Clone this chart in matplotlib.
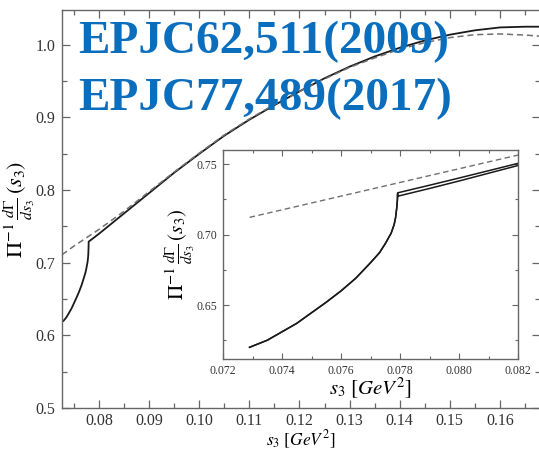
import matplotlib
matplotlib.use("Agg")
import matplotlib.pyplot as plt
from matplotlib.ticker import MultipleLocator, FormatStrFormatter

plt.rcParams['font.family'] = ['Liberation Serif', 'DejaVu Serif']
plt.rcParams['mathtext.fontset'] = 'stix'

# ---------------- data ----------------
# below-threshold branch (shared by main plot and inset)
s3_low = [0.0729, 0.0735, 0.0740, 0.0745, 0.0750, 0.0755, 0.0760, 0.0765, 0.0770, 0.0773,
          0.0775, 0.0777, 0.0778, 0.07785, 0.07789, 0.07791, 0.07792]
rate_low = [0.620, 0.625, 0.631, 0.637, 0.6445, 0.652, 0.660, 0.669, 0.680, 0.687,
            0.6935, 0.701, 0.707, 0.712, 0.719, 0.724, 0.729]

# above-threshold branch, main plot
s3_high = [0.07792, 0.080, 0.085, 0.090, 0.095, 0.100, 0.105, 0.110, 0.115, 0.120, 0.125,
           0.130, 0.135, 0.140, 0.145, 0.150, 0.155, 0.160, 0.165, 0.168]
rate_high = [0.729, 0.740, 0.768, 0.796, 0.824, 0.850, 0.875, 0.897, 0.917, 0.936, 0.954,
             0.970, 0.984, 0.996, 1.006, 1.014, 1.020, 1.024, 1.025, 1.025]

# dashed curve, main plot
s3_dash = [0.0726, 0.075, 0.080, 0.085, 0.090, 0.095, 0.100, 0.105, 0.110, 0.115, 0.120,
           0.125, 0.130, 0.135, 0.140, 0.145, 0.150, 0.155, 0.160, 0.165, 0.168]
rate_dash = [0.711, 0.723, 0.746, 0.771, 0.798, 0.825, 0.851, 0.876, 0.898, 0.918, 0.936,
             0.953, 0.969, 0.982, 0.994, 1.003, 1.010, 1.014, 1.015, 1.0135, 1.012]

# inset: two solid curves above threshold and dashed curve
s3_in_high = [0.07792, 0.0790, 0.0800, 0.0810, 0.0820]
rate_in_high1 = [0.7296, 0.7350, 0.7401, 0.7453, 0.7505]
rate_in_high2 = [0.7272, 0.7327, 0.7380, 0.7435, 0.7490]
s3_in_dash = [0.0729, 0.0820]
rate_in_dash = [0.7122, 0.7564]

main_xticks = [0.08, 0.09, 0.10, 0.11, 0.12, 0.13, 0.14, 0.15, 0.16]
main_yticks = [0.5, 0.6, 0.7, 0.8, 0.9, 1.0]
inset_xticks = [0.072, 0.074, 0.076, 0.078, 0.080, 0.082]
inset_yticks = [0.65, 0.70, 0.75]

refs = ["EPJC62,511(2009)", "EPJC77,489(2017)"]

# ---------------- figure ----------------
W, H = 539, 451
fig = plt.figure(figsize=(W / 100, H / 100), dpi=100)

spine_col = '#666666'
line_col = '#1a1a1a'
dash_col = '#707070'
ylab = r'$\Pi^{-1}\,\frac{d\Gamma}{ds_3}\,(s_3)$'
xlab = r'$s_3\ [GeV^2]$'

def style(ax, major, minor, width):
    for sp in ax.spines.values():
        sp.set_color(spine_col)
        sp.set_linewidth(1.0)
    ax.tick_params(which='both', direction='in', top=True, right=True, colors=spine_col,
                   labelcolor='#333333')
    ax.tick_params(which='major', length=major, width=width)
    ax.tick_params(which='minor', length=minor, width=width)

# main axes
ax = fig.add_axes([62 / W, 1 - 408 / H, (540 - 62) / W, (408 - 10) / H])
ax.plot(s3_low + s3_high, rate_low + rate_high, color=line_col, lw=1.3)
ax.plot(s3_dash, rate_dash, color=dash_col, lw=1.1, ls=(0, (4, 2.5)))
ax.set_xlim(0.0726, 0.168)
ax.set_ylim(0.5, 1.048)
ax.set_xticks(main_xticks)
ax.set_yticks(main_yticks)
ax.xaxis.set_major_formatter(FormatStrFormatter('%.2f'))
ax.yaxis.set_major_formatter(FormatStrFormatter('%.1f'))
ax.xaxis.set_minor_locator(MultipleLocator(0.005))
ax.yaxis.set_minor_locator(MultipleLocator(0.05))
style(ax, 6, 3.5, 0.9)
ax.tick_params(labelsize=11.5, pad=5)
ax.tick_params(axis='x', pad=3.5)
ax.set_xlabel(xlab, fontsize=12.5, labelpad=-0.5)
ax.set_ylabel(ylab, fontsize=16, labelpad=-1)

# inset axes
axi = fig.add_axes([223 / W, 1 - 359 / H, (518 - 223) / W, (359 - 150) / H])
axi.plot(s3_low + s3_in_high, rate_low + rate_in_high1, color=line_col, lw=1.1)
axi.plot(s3_low + s3_in_high, rate_low + rate_in_high2, color=line_col, lw=1.1)
axi.plot(s3_in_dash, rate_in_dash, color=dash_col, lw=1.0, ls=(0, (4, 2.5)))
axi.set_xlim(0.072, 0.082)
axi.set_ylim(0.6117, 0.760)
axi.set_xticks(inset_xticks)
axi.set_yticks(inset_yticks)
axi.xaxis.set_major_formatter(FormatStrFormatter('%.3f'))
axi.yaxis.set_major_formatter(FormatStrFormatter('%.2f'))
axi.xaxis.set_minor_locator(MultipleLocator(0.001))
axi.yaxis.set_minor_locator(MultipleLocator(0.025))
style(axi, 4, 2.5, 0.8)
axi.tick_params(labelsize=8.5, pad=4)
axi.set_xlabel(xlab, fontsize=15, labelpad=-1)
axi.set_ylabel(ylab, fontsize=15, labelpad=0)

# reference text
for i, t in enumerate(refs):
    fig.text(78 / W, 1 - (53 + 57 * i) / H, t, color='#0A6EBD', fontsize=34,
             fontweight='bold', family=['Liberation Serif', 'DejaVu Serif'],
             ha='left', va='baseline', zorder=10)

fig.savefig('out.png', dpi=100)
